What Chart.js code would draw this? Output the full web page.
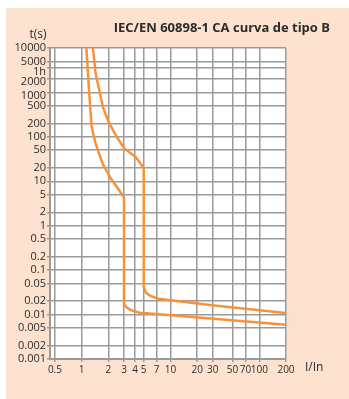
<!DOCTYPE html>
<html>
<head>
<meta charset="utf-8">
<script src="https://cdn.jsdelivr.net/npm/chart.js@4/dist/chart.umd.min.js"></script>
<style>
  html, body { margin: 0; padding: 0; background: #ffffff; }
  #wrap { position: absolute; left: 6px; top: 8px; width: 343px; height: 391px; background: #fde3cf; }
</style>
</head>
<body>
<div id="wrap"><canvas id="curveChart"></canvas></div>
<script>
// Axis ticks
const xTicks = [0.5, 1, 2, 3, 4, 5, 7, 10, 20, 30, 50, 70, 100, 200];
const yTicks = [10000, 5000, 3600, 2000, 1000, 500, 200, 100, 50, 20, 10, 5, 2, 1, 0.5, 0.2, 0.1, 0.05, 0.02, 0.01, 0.005, 0.002, 0.001];
const yLabels = ['10000', '5000', '1h', '2000', '1000', '500', '200', '100', '50', '20', '10', '5', '2', '1', '0.5', '0.2', '0.1', '0.05', '0.02', '0.01', '0.005', '0.002', '0.001'];

// Lower limit curve (I/In, t in s)
const lowX = [1.13, 1.175, 1.23, 1.29, 1.36, 1.43, 1.58, 1.74, 2.13, 2.55, 3, 3, 3.2, 3.63, 4.54, 33, 200];
const lowY = [10000, 2800, 707, 183, 110, 72.7, 40, 23.8, 11.6, 6.97, 4.3, 0.0173, 0.0145, 0.0124, 0.011, 0.0079, 0.0059];

// Upper limit curve
const highX = [1.34, 1.43, 1.56, 1.74, 1.98, 2.23, 2.46, 3, 4.06, 5, 5, 5.3, 5.87, 7.3, 33, 200];
const highY = [10000, 2800, 1260, 458, 233, 147, 102, 55.6, 35, 20, 0.0416, 0.031, 0.0267, 0.0226, 0.0158, 0.0109];

const titleText = 'IEC/EN 60898-1 CA curva de tipo B';
const orange = '#f7923a';
const gridColor = '#9a9a9a';
const textColor = '#2b2b2b';
// small downward nudge (px) of a few crowded y labels
const yLabelNudge = { 3600: 4, 2000: 3, 1000: 3.5 };

const toPoints = (xs, ys) => xs.map((x, i) => ({ x: x, y: ys[i] }));

// white plot area + extra texts
const decorations = {
    id: 'decorations',
    beforeDraw(chart) {
        const { ctx, chartArea: a } = chart;
        ctx.save();
        ctx.fillStyle = '#ffffff';
        ctx.fillRect(a.left, a.top, a.right - a.left, a.bottom - a.top);
        ctx.restore();
    },
    afterDraw(chart) {
        const ctx = chart.ctx;
        ctx.save();
        ctx.fillStyle = textColor;
        ctx.textBaseline = 'alphabetic';
        ctx.font = 'bold 13px "Open Sans"';
        ctx.textAlign = 'right';
        ctx.fillText(titleText, 324, 24);
        ctx.font = '12px "Open Sans"';
        ctx.textAlign = 'center';
        ctx.textBaseline = 'middle';
        ctx.fillText('t(s)', 32, 27);
        ctx.textAlign = 'left';
        ctx.fillText('I/In', 299, 360);
        ctx.restore();
    }
};

const ctx = document.getElementById('curveChart').getContext('2d');
const curveChart = new Chart(ctx, {
    type: 'line',
    data: {
        datasets: [{
            data: toPoints(lowX, lowY),
            borderColor: orange,
            borderWidth: 2.5,
            pointRadius: 0,
            tension: 0,
            fill: false
        }, {
            data: toPoints(highX, highY),
            borderColor: orange,
            borderWidth: 2.5,
            pointRadius: 0,
            tension: 0,
            fill: false
        }]
    },
    options: {
        responsive: true,
        maintainAspectRatio: false,
        animation: false,
        layout: { padding: { top: 40, right: 63, bottom: 0, left: 0 } },
        plugins: {
            legend: { display: false },
            tooltip: { enabled: false }
        },
        scales: {
            x: {
                type: 'logarithmic',
                min: 0.44,
                max: 200,
                afterBuildTicks: s => { s.ticks = xTicks.map(v => ({ value: v })); },
                afterFit: s => { s.height = 40; },
                ticks: {
                    autoSkip: false,
                    maxRotation: 0,
                    padding: 2,
                    color: textColor,
                    font: { family: 'Open Sans', size: 10 },
                    callback: v => String(v)
                },
                grid: { color: gridColor, lineWidth: 1.5, tickLength: 3 },
                border: { color: gridColor, width: 2 }
            },
            y: {
                type: 'logarithmic',
                min: 0.001,
                max: 10000,
                afterBuildTicks: s => { s.ticks = yTicks.slice().reverse().map(v => ({ value: v })); },
                afterFit: s => { s.width = 44; },
                ticks: {
                    autoSkip: false,
                    padding: 1,
                    color: textColor,
                    font: c => {
                        const n = c.tick ? yLabelNudge[c.tick.value] : 0;
                        return { family: 'Open Sans', size: 11, lineHeight: n ? (2 * n) + 'px' : 1.2 };
                    },
                    callback: v => {
                        const label = yLabels[yTicks.indexOf(v)];
                        return yLabelNudge[v] ? ['', label] : label;
                    }
                },
                grid: { color: gridColor, lineWidth: 1.5, tickLength: 3 },
                border: { color: gridColor, width: 2 }
            }
        }
    },
    plugins: [decorations]
});
</script>
</body>
</html>
